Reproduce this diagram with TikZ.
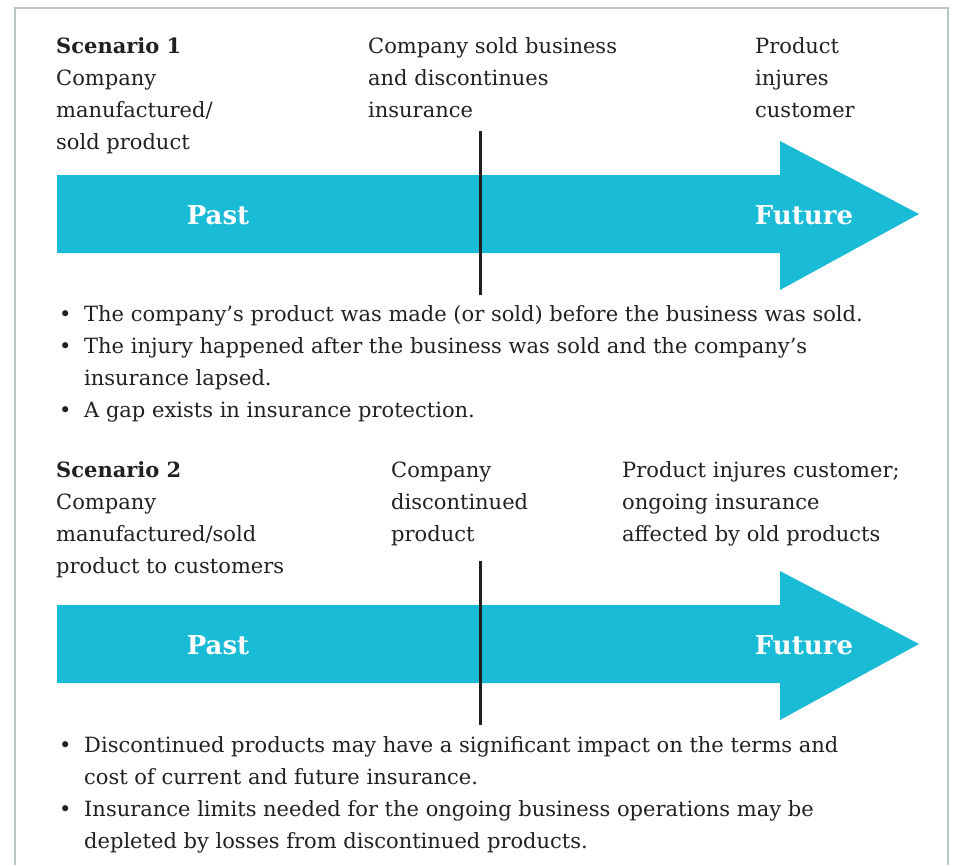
\documentclass[tikz,border=0pt]{standalone}
\usepackage{fontspec}
\setmainfont{DejaVu Serif}
\usepackage{tikz}
\definecolor{timecyan}{HTML}{1ABBD6}
\definecolor{framegray}{HTML}{B9C7C3}
\definecolor{ink}{HTML}{231F20}
\tikzset{
    bodytext/.style={anchor=base west, align=left, inner sep=0pt, text=ink,
        font=\fontsize{21}{32}\selectfont},
    timeword/.style={text=white, inner sep=0pt, anchor=base,
        font=\fontsize{26}{30}\selectfont\bfseries},
    timeline/.style={fill=timecyan, draw=none},
    divider/.style={line width=3pt, draw=ink}}
\newcommand{\bul}{\makebox[25pt][l]{\textbullet}}
\newcommand{\nobul}{\makebox[25pt][l]{}}

\begin{document}
\begin{tikzpicture}[x=1pt, y=-1pt]
    \useasboundingbox (0,0) rectangle (953,865);
    % frame, open at the bottom
    \draw[framegray, line width=1.5pt] (15,865) -- (15,8) -- (948,8) -- (948,865);

    % scenario 1 (nodes sit on the baseline of their last line)
    \node[bodytext] (s1) at (56,149) {\textbf{Scenario 1}\\Company\\manufactured/\\sold product};
    \node[bodytext] (s1sold) at (368,117) {Company sold business\\and discontinues\\insurance};
    \node[bodytext] (s1hurt) at (755,117) {Product\\injures\\customer};
    \fill[timeline] (57,175) -- (780,175) -- (780,141) -- (919,214)
        -- (780,290) -- (780,253) -- (57,253) -- cycle;
    \node[timeword] (past1) at (218,224) {Past};
    \node[timeword] (future1) at (804,224) {Future};
    \coordinate (cut1top) at (480,131);
    \coordinate (cut1bot) at (480,295);
    \draw[divider] (cut1top) -- (cut1bot);
    \node[bodytext] (b1a) at (59,321) {\bul The company's product was made (or sold) before the business was sold.};
    \node[bodytext] (b1b) at (59,385) {\bul The injury happened after the business was sold and the company's\\\nobul insurance lapsed.};
    \node[bodytext] (b1c) at (59,417) {\bul A gap exists in insurance protection.};

    % scenario 2
    \node[bodytext] (s2) at (56,573) {\textbf{Scenario 2}\\Company\\manufactured/sold\\product to customers};
    \node[bodytext] (s2stop) at (391,541) {Company\\discontinued\\product};
    \node[bodytext] (s2hurt) at (622,541) {Product injures customer;\\ongoing insurance\\affected by old products};
    \fill[timeline] (57,605) -- (780,605) -- (780,571) -- (919,644)
        -- (780,720) -- (780,683) -- (57,683) -- cycle;
    \node[timeword] (past2) at (218,654) {Past};
    \node[timeword] (future2) at (804,654) {Future};
    \coordinate (cut2top) at (480,561);
    \coordinate (cut2bot) at (480,725);
    \draw[divider] (cut2top) -- (cut2bot);
    \node[bodytext] (b2a) at (59,784) {\bul Discontinued products may have a significant impact on the terms and\\\nobul cost of current and future insurance.};
    \node[bodytext] (b2b) at (59,848) {\bul Insurance limits needed for the ongoing business operations may be\\\nobul depleted by losses from discontinued products.};
\end{tikzpicture}
\end{document}
